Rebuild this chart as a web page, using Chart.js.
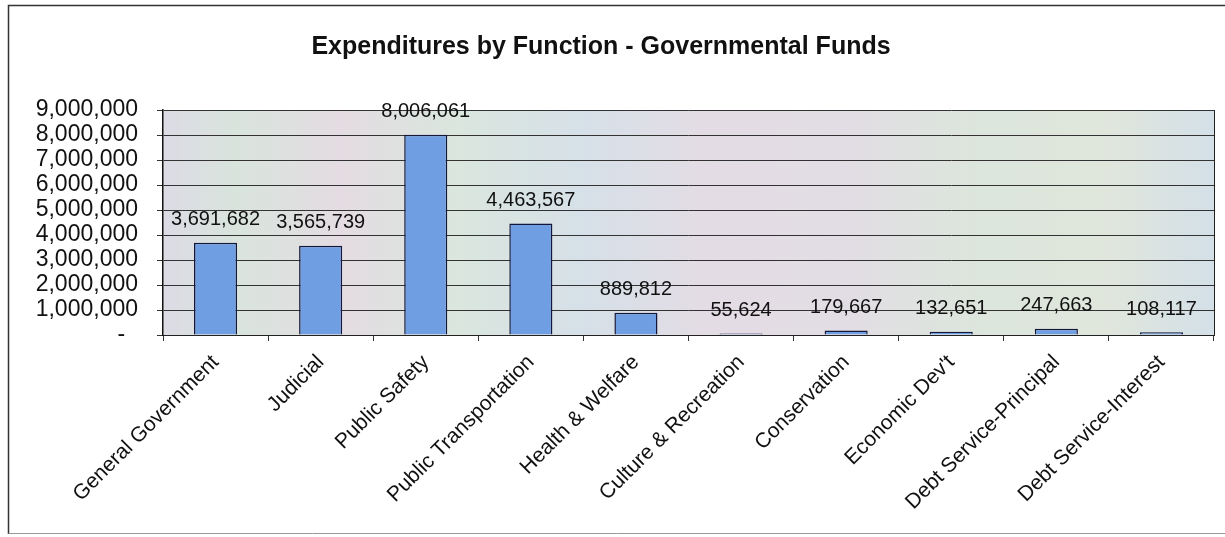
<!DOCTYPE html>
<html>
<head>
<meta charset="utf-8">
<script src="https://cdn.jsdelivr.net/npm/chart.js@4.4.0/dist/chart.umd.min.js"></script>
<style>
    body { margin: 0; background: #fff; }
    #wrap { width: 1225px; height: 537px; position: relative; }
</style>
</head>
<body>
<div id="wrap"><canvas id="myChart"></canvas></div>
<script>
const categories = ['General Government', 'Judicial', 'Public Safety', 'Public Transportation',
    'Health & Welfare', 'Culture & Recreation', 'Conservation', "Economic Dev't",
    'Debt Service-Principal', 'Debt Service-Interest'];
const expenditures = [3691682, 3565739, 8006061, 4463567, 889812, 55624, 179667, 132651, 247663, 108117];
const chartTitle = 'Expenditures by Function - Governmental Funds';

const police = '"Liberation Sans", Arial, sans-serif';

function fmt(v) {
    return v === 0 ? '-  ' : v.toLocaleString('en-US');
}

// outer frame, title and pastel wash behind the bars
const fondPlugin = {
    id: 'fond',
    beforeDraw(chart) {
        const ctx = chart.ctx;
        const a = chart.chartArea;
        ctx.save();
        ctx.strokeStyle = '#333';
        ctx.lineWidth = 1.5;
        ctx.beginPath();
        ctx.moveTo(8.5, 534);
        ctx.lineTo(8.5, 5.5);
        ctx.lineTo(1225, 5.5);
        ctx.stroke();
        ctx.strokeStyle = '#999';
        ctx.lineWidth = 1;
        ctx.beginPath();
        ctx.moveTo(8.5, 533.5);
        ctx.lineTo(1225, 533.5);
        ctx.stroke();

        ctx.font = 'bold 25px ' + police;
        ctx.fillStyle = '#111';
        ctx.textAlign = 'center';
        ctx.textBaseline = 'middle';
        ctx.fillText(chartTitle, 601, 47);

        let g = ctx.createLinearGradient(a.left, 0, a.right, 0);
        g.addColorStop(0, '#dcdbe4');
        g.addColorStop(0.07, '#d9e4dd');
        g.addColorStop(0.17, '#e4dce2');
        g.addColorStop(0.28, '#dae6de');
        g.addColorStop(0.40, '#d6e0e8');
        g.addColorStop(0.52, '#e4dce4');
        g.addColorStop(0.65, '#e2dde4');
        g.addColorStop(0.78, '#dce6dc');
        g.addColorStop(0.90, '#e0e6dc');
        g.addColorStop(1, '#d4e0e8');
        ctx.fillStyle = g;
        ctx.fillRect(a.left, a.top, a.right - a.left, a.bottom - a.top);
        ctx.restore();
    },
    afterDraw(chart) {
        const ctx = chart.ctx;
        const a = chart.chartArea;
        ctx.save();
        ctx.strokeStyle = '#222';
        ctx.lineWidth = 1;
        ctx.beginPath();
        ctx.moveTo(a.right + 0.5, a.top);
        ctx.lineTo(a.right + 0.5, a.bottom);
        ctx.stroke();
        ctx.restore();
    }
};

// value written above each bar
const etiquettePlugin = {
    id: 'etiquette',
    afterDatasetsDraw(chart) {
        const ctx = chart.ctx;
        const meta = chart.getDatasetMeta(0);
        ctx.save();
        ctx.font = '20px ' + police;
        ctx.fillStyle = '#111';
        ctx.textAlign = 'center';
        ctx.textBaseline = 'middle';
        meta.data.forEach((bar, i) => {
            ctx.fillText(fmt(expenditures[i]), bar.x, bar.y - 23);
        });
        ctx.restore();
    }
};

let ctx = document.getElementById('myChart').getContext('2d');
var myChart = new Chart(ctx, {
    type: 'bar',
    data: {
        labels: categories,
        datasets: [{
            data: expenditures,
            backgroundColor: '#6f9fe2',
            borderColor: '#14163a',
            borderWidth: 1.5,
            barPercentage: 0.41,
            categoryPercentage: 1
        }]
    },
    options: {
        responsive: true,
        maintainAspectRatio: false,
        animation: false,
        layout: { padding: { left: 10, right: 11, top: 110, bottom: 12 } },
        plugins: {
            legend: { display: false },
            tooltip: { enabled: false },
            title: { display: false }
        },
        scales: {
            x: {
                grid: {
                    offset: true,
                    drawOnChartArea: false,
                    drawTicks: true,
                    tickLength: 6,
                    color: '#333'
                },
                border: { display: true, color: '#222', width: 1 },
                ticks: {
                    color: '#111',
                    maxRotation: 45,
                    minRotation: 45,
                    autoSkip: false,
                    padding: 9,
                    font: { family: police, size: 21 }
                },
                afterFit(s) { s.height = 190; }
            },
            y: {
                min: 0,
                max: 9000000,
                grid: {
                    color: '#333',
                    lineWidth: 1,
                    drawTicks: true,
                    tickLength: 6
                },
                border: { display: true, color: '#111', width: 1.5 },
                ticks: {
                    stepSize: 1000000,
                    autoSkip: false,
                    color: '#111',
                    padding: 19,
                    font: { family: police, size: 23 },
                    callback: (v) => fmt(v)
                },
                afterFit(s) { s.width = 153; }
            }
        }
    },
    plugins: [fondPlugin, etiquettePlugin]
});
</script>
</body>
</html>
